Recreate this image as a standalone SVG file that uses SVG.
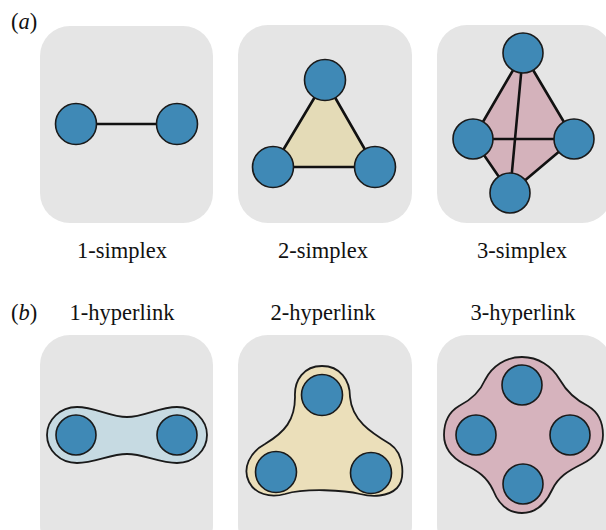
<svg xmlns="http://www.w3.org/2000/svg" width="606" height="530" viewBox="0 0 606 530">
<style>
.bg{fill:#e5e5e5;stroke:none}
.node{fill:#3f89b6;stroke:#1a1a1a;stroke-width:1.6}
.edge{stroke:#111;stroke-width:2.6;fill:none;stroke-linecap:round}
.hull{stroke:#1a1a1a;stroke-width:1.8}
text{font-family:"Liberation Serif","Times New Roman",serif;font-size:22.5px;fill:#111}
.lbl{text-anchor:middle}
</style>
<rect width="606" height="530" fill="#ffffff"/>
<text x="11" y="29">(<tspan font-style="italic">a</tspan>)</text>
<text x="11" y="320">(<tspan font-style="italic">b</tspan>)</text>
<g id="panel-a1">
<rect class="bg" x="40" y="26" width="173" height="197" rx="30"/>
</g>
<g id="panel-a2">
<rect class="bg" x="238" y="25" width="174" height="198" rx="30"/>
<polygon points="325,80 273,167 375,167" fill="#e4dbb7"/>
</g>
<g id="panel-a3">
<rect class="bg" x="437" y="25" width="175" height="198" rx="30"/>
<polygon points="523,53 574,139 510,193 473,139" fill="#d4b2bb"/>
</g>
<g id="panel-b1">
<rect class="bg" x="40" y="335" width="173" height="220" rx="30"/>
<path class="hull" fill="#c6dae2" d="M 77 407 C 95 407 110 417 127 417 C 144 417 159 407 177 407 C 194 407 207 420 207 435 C 207 450 194 463 177 463 C 159 463 144 454 127 454 C 110 454 95 463 77 463 C 60 463 47 450 47 435 C 47 420 60 407 77 407 Z"/>
</g>
<g id="panel-b2">
<rect class="bg" x="238" y="335" width="174" height="220" rx="30"/>
<path class="hull" fill="#ebdfba" d="M 322 366 C 340 366 350 380 350 397 C 352 420 370 432 390 444 C 405 454 405 480 397 488 C 388 497 372 497 360 494 C 345 490 305 488 285 494 C 270 498 255 494 249 482 C 242 468 250 452 265 444 C 285 432 295 420 295 397 C 294 380 304 366 322 366 Z"/>
</g>
<g id="panel-b3">
<rect class="bg" x="437" y="335" width="175" height="220" rx="30"/>
<path class="hull" fill="#d6b3bd" d="M 522 357 C 538 357 552 366 560 380 C 568 394 578 401 588 406 C 598 412 603 423 603 435 C 603 448 596 457 582 464 C 568 471 558 477 552 490 C 545 505 536 513 522 513 C 508 513 499 505 493 490 C 487 477 478 471 464 464 C 451 457 444 448 444 435 C 444 423 449 412 459 406 C 469 401 479 394 485 380 C 492 366 506 357 522 357 Z"/>
</g>
<g id="connectors">
<line class="edge" x1="76" y1="124" x2="177" y2="124"/>
<line class="edge" x1="325" y1="80" x2="273" y2="167"/>
<line class="edge" x1="325" y1="80" x2="375" y2="167"/>
<line class="edge" x1="273" y1="167" x2="375" y2="167"/>
<line class="edge" x1="523" y1="53" x2="473" y2="139"/>
<line class="edge" x1="523" y1="53" x2="574" y2="139"/>
<line class="edge" x1="523" y1="53" x2="510" y2="193"/>
<line class="edge" x1="473" y1="139" x2="574" y2="139"/>
<line class="edge" x1="473" y1="139" x2="510" y2="193"/>
<line class="edge" x1="574" y1="139" x2="510" y2="193"/>
</g>
<g id="nodes-a1">
<circle class="node" cx="76" cy="124" r="20.5"/>
<circle class="node" cx="177" cy="124" r="20.5"/>
</g>
<g id="nodes-a2">
<circle class="node" cx="325" cy="80" r="20.5"/>
<circle class="node" cx="273" cy="167" r="20.5"/>
<circle class="node" cx="375" cy="167" r="20.5"/>
</g>
<g id="nodes-a3">
<circle class="node" cx="523" cy="53" r="20"/>
<circle class="node" cx="473" cy="139" r="20"/>
<circle class="node" cx="574" cy="139" r="20"/>
<circle class="node" cx="510" cy="193" r="20"/>
</g>
<g id="nodes-b1">
<circle class="node" cx="76" cy="435" r="20"/>
<circle class="node" cx="177" cy="435" r="20"/>
</g>
<g id="nodes-b2">
<circle class="node" cx="322" cy="395" r="20.5"/>
<circle class="node" cx="276" cy="472" r="20.5"/>
<circle class="node" cx="371" cy="473" r="20.5"/>
</g>
<g id="nodes-b3">
<circle class="node" cx="522" cy="385" r="20"/>
<circle class="node" cx="476" cy="435" r="20"/>
<circle class="node" cx="570" cy="435" r="20"/>
<circle class="node" cx="523" cy="484" r="20"/>
</g>
<g id="labels">
<text class="lbl" x="122" y="258">1-simplex</text>
<text class="lbl" x="323" y="258">2-simplex</text>
<text class="lbl" x="522" y="258">3-simplex</text>
<text class="lbl" x="122" y="320">1-hyperlink</text>
<text class="lbl" x="323" y="320">2-hyperlink</text>
<text class="lbl" x="523" y="320">3-hyperlink</text>
</g>
</svg>
